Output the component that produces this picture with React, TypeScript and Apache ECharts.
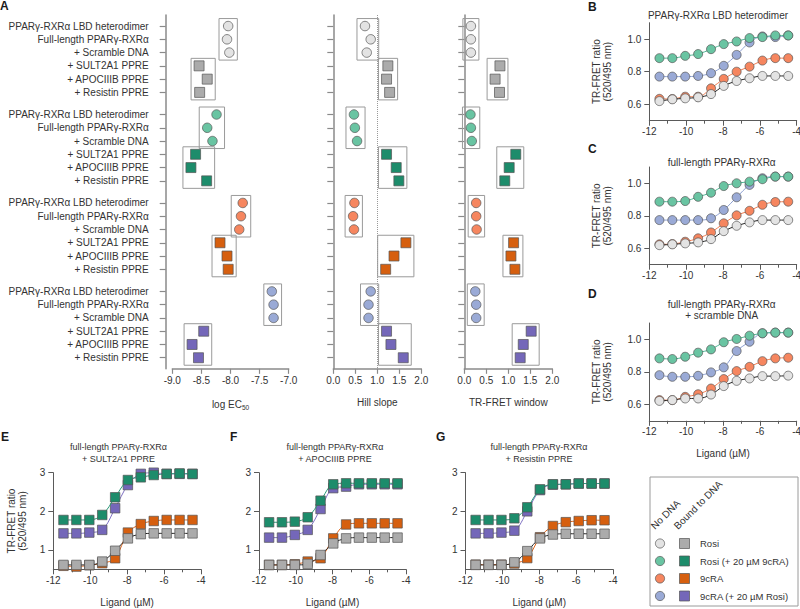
import React, { useEffect, useRef } from 'react';
import * as echarts from 'echarts';

const FONT = '"Liberation Sans", Arial, Helvetica, sans-serif';
const TXT = '#333333';

// ---------- Panel A data ----------
const rowLabels = [
  'PPARγ-RXRα LBD heterodimer',
  'Full-length PPARγ-RXRα',
  '+ Scramble DNA',
  '+ SULT2A1 PPRE',
  '+ APOCIIIB PPRE',
  '+ Resistin PPRE',
];
const treatments = ['Rosi', 'Rosi (+ 20 µM 9cRA)', '9cRA', '9cRA (+ 20 µM Rosi)'];
const noDnaColors = ['#e3e3e3', '#69c4a2', '#f6865f', '#9aaad6'];
const boundColors = ['#ababab', '#1d8c6b', '#d65f0f', '#7467b9'];
const lineColorsBCD = ['#222222', '#4db592', '#ee7d52', '#8c9fd0'];
const lineColorsEFG = ['#222222', '#2a9a78', '#e0661c', '#7f71c2'];

const logEC50 = [
  [-8.04, -8.06, -8.02, -8.54, -8.40, -8.53],
  [-8.24, -8.40, -8.31, -8.60, -8.68, -8.41],
  [-7.79, -7.82, -7.85, -8.18, -8.06, -8.04],
  [-7.29, -7.26, -7.26, -8.46, -8.66, -8.55],
];
const hillSlope = [
  [0.72, 0.85, 0.76, 1.24, 1.21, 1.28],
  [0.47, 0.49, 0.54, 1.21, 1.43, 1.49],
  [0.48, 0.45, 0.47, 1.65, 1.38, 1.19],
  [0.85, 0.80, 0.80, 1.21, 1.31, 1.59],
];
const trfretWindow = [
  [0.15, 0.15, 0.15, 0.81, 0.70, 0.80],
  [0.14, 0.15, 0.17, 1.17, 1.02, 0.92],
  [0.27, 0.27, 0.28, 1.12, 1.06, 1.15],
  [0.25, 0.27, 0.27, 1.52, 1.34, 1.27],
];

// ---------- Dose-response data ----------
const ligandLog = [-11.45, -10.75, -10.05, -9.35, -8.65, -7.96, -7.26, -6.56, -5.86, -5.16, -4.46];

const B_rosi = [0.620, 0.631, 0.637, 0.643, 0.663, 0.713, 0.743, 0.760, 0.774, 0.774, 0.774];
const B_rosi9c = [0.883, 0.883, 0.897, 0.908, 0.938, 0.969, 0.985, 1.006, 1.012, 1.022, 1.022];
const B_9cra = [0.634, 0.633, 0.647, 0.647, 0.698, 0.756, 0.800, 0.831, 0.868, 0.883, 0.883];
const B_9craRosi = [0.770, 0.770, 0.770, 0.774, 0.791, 0.836, 0.903, 0.979, 1.016, 1.012, 1.022];

const C_rosi = [0.620, 0.625, 0.631, 0.637, 0.657, 0.706, 0.739, 0.760, 0.774, 0.774, 0.774];
const C_rosi9c = [0.887, 0.887, 0.891, 0.917, 0.942, 0.983, 1.000, 1.010, 1.025, 1.041, 1.041];
const C_9cra = [0.625, 0.627, 0.641, 0.662, 0.698, 0.754, 0.803, 0.831, 0.868, 0.885, 0.887];
const C_9craRosi = [0.774, 0.774, 0.774, 0.774, 0.785, 0.836, 0.914, 0.990, 1.031, 1.041, 1.041];

const D_rosi = [0.622, 0.627, 0.637, 0.637, 0.661, 0.713, 0.745, 0.760, 0.774, 0.774, 0.777];
const D_rosi9c = [0.883, 0.879, 0.893, 0.918, 0.938, 0.982, 1.002, 1.022, 1.037, 1.041, 1.041];
const D_9cra = [0.627, 0.627, 0.647, 0.663, 0.698, 0.756, 0.805, 0.831, 0.866, 0.883, 0.887];
const D_9craRosi = [0.780, 0.770, 0.770, 0.776, 0.797, 0.828, 0.928, 0.985, 1.037, 1.041, 1.041];

const E_rosi = [0.613, 0.613, 0.613, 0.70, 0.98, 1.30, 1.41, 1.43, 1.43, 1.43, 1.43];
const E_rosi9c = [1.777, 1.777, 1.777, 1.906, 2.364, 2.811, 2.88, 2.94, 2.966, 2.98, 2.966];
const E_9cra = [0.59, 0.57, 0.605, 0.657, 0.786, 1.45, 1.67, 1.75, 1.777, 1.777, 1.777];
const E_9craRosi = [1.43, 1.43, 1.45, 1.52, 2.08, 2.68, 2.97, 3.0, 2.97, 2.97, 2.97];

const F_rosi = [0.613, 0.613, 0.613, 0.64, 0.87, 1.17, 1.30, 1.32, 1.32, 1.32, 1.32];
const F_rosi9c = [1.717, 1.717, 1.733, 1.847, 2.276, 2.70, 2.726, 2.726, 2.726, 2.726, 2.726];
const F_9cra = [0.613, 0.613, 0.63, 0.70, 0.786, 1.30, 1.66, 1.69, 1.69, 1.69, 1.69];
const F_9craRosi = [1.32, 1.32, 1.39, 1.52, 2.06, 2.60, 2.64, 2.70, 2.70, 2.70, 2.70];

const G_rosi = [0.613, 0.613, 0.613, 0.68, 0.97, 1.30, 1.40, 1.42, 1.42, 1.42, 1.42];
const G_rosi9c = [1.777, 1.777, 1.777, 1.82, 2.105, 2.57, 2.70, 2.70, 2.72, 2.72, 2.72];
const G_9cra = [0.62, 0.62, 0.62, 0.65, 0.79, 1.33, 1.62, 1.72, 1.75, 1.77, 1.77];
const G_9craRosi = [1.43, 1.43, 1.45, 1.50, 2.0, 2.55, 2.69, 2.70, 2.72, 2.72, 2.72];

const ticksBCD = [0.6, 0.8, 1.0];
const ticksEFG = [1, 2, 3];

// ---------- option building ----------
const N_UNITS = 80;
const rowUnit = (t: number, i: number) => 2 + t * 20 + i * 3;

function buildOption() {
  const catData: string[] = Array.from({ length: N_UNITS }, () => '');
  const isRow: boolean[] = Array.from({ length: N_UNITS }, () => false);
  for (let t = 0; t < 4; t++) {
    for (let i = 0; i < 6; i++) {
      catData[rowUnit(t, i)] = rowLabels[i];
      isRow[rowUnit(t, i)] = true;
    }
  }

  const grids: any[] = [];
  const xAxes: any[] = [];
  const yAxes: any[] = [];
  const series: any[] = [];
  const graphic: any[] = [];

  const axisGrayA = '#8a8a8a';
  const textStyle = { color: TXT, fontFamily: FONT, fontSize: 10 };

  const aPanels = [
    { vals: logEC50, left: 172.3, width: 116.4, min: -9, max: -7, yOffset: 6.6, name: '{a|log EC}{b|50}', labels: true, dotted: false },
    { vals: hillSlope, left: 333.3, width: 88, min: 0, max: 2, yOffset: 7.3, name: 'Hill slope', labels: false, dotted: true },
    { vals: trfretWindow, left: 464.3, width: 88, min: 0, max: 2, yOffset: 7, name: 'TR-FRET window', labels: false, dotted: false },
  ];

  aPanels.forEach((p, gi) => {
    grids.push({ left: p.left, top: 15, width: p.width, height: 353.8, outerBoundsMode: 'none', containLabel: false });
    xAxes.push({
      type: 'value', gridIndex: gi, min: p.min, max: p.max, interval: 0.5,
      axisLine: { show: true, onZero: false, lineStyle: { color: axisGrayA, width: 1.5 } },
      axisTick: { show: true, length: 5, lineStyle: { color: axisGrayA, width: 1.2 } },
      axisLabel: { ...textStyle, margin: 7, formatter: (v: number) => v.toFixed(1) },
      splitLine: { show: false },
      name: p.name, nameLocation: 'middle', nameGap: 29,
      nameTextStyle: {
        ...textStyle,
        rich: {
          a: { fontSize: 10, fontFamily: FONT, color: TXT },
          b: { fontSize: 6.5, fontFamily: FONT, color: TXT, padding: [6, 0, 0, 0] },
        },
      },
    });
    yAxes.push({
      type: 'category', gridIndex: gi, data: catData, inverse: true, boundaryGap: true, offset: p.yOffset,
      axisLine: { show: true, lineStyle: { color: axisGrayA, width: 1.5 } },
      axisTick: { show: true, alignWithLabel: true, length: 6, interval: (idx: number) => isRow[idx], lineStyle: { color: axisGrayA, width: 1.2 } },
      axisLabel: { show: p.labels, ...textStyle, margin: 17, interval: (idx: number) => isRow[idx] },
      splitLine: { show: false },
    });

    // boxes around each group of three
    const boxData: number[][] = [];
    for (let t = 0; t < 4; t++) {
      for (let h = 0; h < 2; h++) {
        const vs = p.vals[t].slice(h * 3, h * 3 + 3);
        boxData.push([Math.min(...vs), Math.max(...vs), rowUnit(t, h * 3), rowUnit(t, h * 3 + 2)]);
      }
    }
    series.push({
      type: 'custom', xAxisIndex: gi, yAxisIndex: gi, z: 1, silent: true,
      encode: { x: [0, 1], y: [2, 3] },
      data: boxData,
      renderItem: (params: any, api: any) => {
        const p1 = api.coord([api.value(0), api.value(2)]);
        const p2 = api.coord([api.value(1), api.value(3)]);
        return {
          type: 'rect',
          shape: { x: p1[0] - 8, y: p1[1] - 7.5, width: p2[0] - p1[0] + 16, height: p2[1] - p1[1] + 15 },
          style: { fill: 'rgba(0,0,0,0)', stroke: '#9a9a9a', lineWidth: 1 },
        };
      },
    });

    for (let t = 0; t < 4; t++) {
      const circ: any = {
        type: 'scatter', xAxisIndex: gi, yAxisIndex: gi, z: 3,
        symbol: 'circle', symbolSize: 9.5,
        itemStyle: { color: noDnaColors[t], borderColor: '#555', borderWidth: 0.7, opacity: 1 },
        data: p.vals[t].slice(0, 3).map((v, i) => [v, rowUnit(t, i)]),
      };
      if (p.dotted && t === 0) {
        circ.markLine = {
          silent: true, symbol: ['none', 'none'], label: { show: false },
          lineStyle: { type: 'dotted', color: '#999', width: 1 },
          data: [{ xAxis: 1 }],
        };
      }
      series.push(circ);
      series.push({
        type: 'scatter', xAxisIndex: gi, yAxisIndex: gi, z: 3,
        symbol: 'rect', symbolSize: 10,
        itemStyle: { color: boundColors[t], borderColor: '#555', borderWidth: 0.7, opacity: 1 },
        data: p.vals[t].slice(3, 6).map((v, i) => [v, rowUnit(t, i + 3)]),
      });
    }
  });

  // ---------- dose-response panels ----------
  const curvePanels = [
    { sets: [B_rosi, B_rosi9c, B_9cra, B_9craRosi], left: 649.3, top: 22.7, width: 147.4, height: 98, ymin: 0.5, ymax: 1.1, ticks: ticksBCD, dec: 1, sym: 'circle', colors: noDnaColors, lines: lineColorsBCD, xName: '', yName: 'TR-FRET ratio\n(520/495 nm)', yGap: 36 },
    { sets: [C_rosi, C_rosi9c, C_9cra, C_9craRosi], left: 649.3, top: 167, width: 147.4, height: 97.7, ymin: 0.5, ymax: 1.1, ticks: ticksBCD, dec: 1, sym: 'circle', colors: noDnaColors, lines: lineColorsBCD, xName: '', yName: 'TR-FRET ratio\n(520/495 nm)', yGap: 36 },
    { sets: [D_rosi, D_rosi9c, D_9cra, D_9craRosi], left: 649.3, top: 323, width: 147.4, height: 97.8, ymin: 0.5, ymax: 1.1, ticks: ticksBCD, dec: 1, sym: 'circle', colors: noDnaColors, lines: lineColorsBCD, xName: 'Ligand (µM)', yName: 'TR-FRET ratio\n(520/495 nm)', yGap: 36 },
    { sets: [E_rosi, E_rosi9c, E_9cra, E_9craRosi], left: 53.3, top: 472.7, width: 147.7, height: 96.6, ymin: 0.5, ymax: 3, ticks: ticksEFG, dec: 0, sym: 'rect', colors: boundColors, lines: lineColorsEFG, xName: 'Ligand (µM)', yName: 'TR-FRET ratio\n(520/495 nm)', yGap: 25 },
    { sets: [F_rosi, F_rosi9c, F_9cra, F_9craRosi], left: 259, top: 472.7, width: 147, height: 96.6, ymin: 0.5, ymax: 3, ticks: ticksEFG, dec: 0, sym: 'rect', colors: boundColors, lines: lineColorsEFG, xName: 'Ligand (µM)', yName: '', yGap: 25 },
    { sets: [G_rosi, G_rosi9c, G_9cra, G_9craRosi], left: 465.5, top: 472.7, width: 147.5, height: 96.6, ymin: 0.5, ymax: 3, ticks: ticksEFG, dec: 0, sym: 'rect', colors: boundColors, lines: lineColorsEFG, xName: 'Ligand (µM)', yName: '', yGap: 25 },
  ];
  const axisGray = '#5a5a5a';
  const drawOrder = [3, 1, 2, 0];

  curvePanels.forEach((p, k) => {
    const gi = 3 + k;
    grids.push({ left: p.left, top: p.top, width: p.width, height: p.height, outerBoundsMode: 'none', containLabel: false });
    xAxes.push({
      type: 'value', gridIndex: gi, min: -12, max: -4, interval: 2,
      axisLine: { show: true, onZero: false, lineStyle: { color: axisGray, width: 1 } },
      axisTick: { show: true, length: 5, lineStyle: { color: axisGray } },
      minorTick: { show: true, splitNumber: 2, length: 3, lineStyle: { color: axisGray } },
      axisLabel: { ...textStyle, margin: 6 },
      splitLine: { show: false }, minorSplitLine: { show: false },
      name: p.xName, nameLocation: 'middle', nameGap: 28, nameTextStyle: { ...textStyle },
    });
    yAxes.push({
      type: 'value', gridIndex: gi, min: p.ymin, max: p.ymax,
      axisLine: { show: true, onZero: false, lineStyle: { color: axisGray, width: 1 } },
      axisTick: { show: true, length: 5, customValues: p.ticks, lineStyle: { color: axisGray } },
      axisLabel: { ...textStyle, margin: 8, customValues: p.ticks, formatter: (v: number) => v.toFixed(p.dec) },
      splitLine: { show: false },
      name: p.yName, nameLocation: 'middle', nameRotate: 90, nameGap: p.yGap,
      nameTextStyle: { ...textStyle, lineHeight: 11.5 },
    });
    drawOrder.forEach((t, j) => {
      series.push({
        type: 'line', xAxisIndex: gi, yAxisIndex: gi, z: 3 + j,
        name: treatments[t],
        data: ligandLog.map((x, i) => [x, p.sets[t][i]]),
        smooth: 0.35,
        symbol: p.sym, symbolSize: p.sym === 'rect' ? 9.5 : 9, showSymbol: true,
        lineStyle: { color: p.lines[t], width: 1 },
        itemStyle: { color: p.colors[t], borderColor: '#555', borderWidth: 0.7 },
      });
    });
  });

  // ---------- titles ----------
  const titleTxt = (x: number, y: number, text: string, size: number) => ({
    type: 'text', x, y, silent: true,
    style: { text, fill: TXT, font: `${size}px ${FONT}`, textAlign: 'center', textVerticalAlign: 'middle' },
  });
  graphic.push(titleTxt(718, 15, 'PPARγ-RXRα LBD heterodimer', 10));
  graphic.push(titleTxt(721.7, 162.5, 'full-length PPARγ-RXRα', 10));
  graphic.push(titleTxt(721.7, 304, 'full-length PPARγ-RXRα', 10));
  graphic.push(titleTxt(721.7, 315.5, '+ scramble DNA', 10));
  graphic.push(titleTxt(118.5, 447.3, 'full-length PPARγ-RXRα', 9));
  graphic.push(titleTxt(118.5, 459.3, '+ SULT2A1 PPRE', 9));
  graphic.push(titleTxt(335, 447.3, 'full-length PPARγ-RXRα', 9));
  graphic.push(titleTxt(335, 459.3, '+ APOCIIIB PPRE', 9));
  graphic.push(titleTxt(539, 447.3, 'full-length PPARγ-RXRα', 9));
  graphic.push(titleTxt(539, 459.3, '+ Resistin PPRE', 9));

  // panel letters
  const letter = (x: number, y: number, t: string) => ({
    type: 'text', x, y, silent: true,
    style: { text: t, fill: '#1a1a1a', font: `bold 12px ${FONT}`, textAlign: 'left', textVerticalAlign: 'middle' },
  });
  graphic.push(letter(0, 6, 'A'));
  graphic.push(letter(588, 7, 'B'));
  graphic.push(letter(588, 149, 'C'));
  graphic.push(letter(588, 294, 'D'));
  graphic.push(letter(1, 437, 'E'));
  graphic.push(letter(230, 437, 'F'));
  graphic.push(letter(436, 437, 'G'));

  // ---------- legend ----------
  graphic.push({ type: 'rect', silent: true, shape: { x: 650, y: 477, width: 148, height: 129 }, style: { fill: '#ffffff', stroke: '#9a9a9a', lineWidth: 1 } });
  graphic.push({ type: 'text', x: 656, y: 531, rotation: Math.PI / 4, silent: true, style: { text: 'No DNA', fill: TXT, font: `10px ${FONT}`, textAlign: 'left', textVerticalAlign: 'bottom' } });
  graphic.push({ type: 'text', x: 679, y: 531, rotation: Math.PI / 4, silent: true, style: { text: 'Bound to DNA', fill: TXT, font: `10px ${FONT}`, textAlign: 'left', textVerticalAlign: 'bottom' } });
  treatments.forEach((name, t) => {
    const cy = 543.5 + t * 17.5;
    graphic.push({ type: 'circle', silent: true, shape: { cx: 660, cy, r: 4.6 }, style: { fill: noDnaColors[t], stroke: '#555', lineWidth: 0.7 } });
    graphic.push({ type: 'rect', silent: true, shape: { x: 679.5, y: cy - 5, width: 10, height: 10 }, style: { fill: boundColors[t], stroke: '#555', lineWidth: 0.7 } });
    graphic.push({ type: 'text', x: 700, y: cy, silent: true, style: { text: name, fill: TXT, font: `9.5px ${FONT}`, textAlign: 'left', textVerticalAlign: 'middle' } });
  });

  return {
    animation: false,
    backgroundColor: '#ffffff',
    textStyle: { fontFamily: FONT },
    grid: grids,
    xAxis: xAxes,
    yAxis: yAxes,
    series,
    graphic: { elements: graphic },
  };
}

export default function App() {
  const ref = useRef<HTMLDivElement>(null);
  useEffect(() => {
    if (!ref.current) return;
    const chart = echarts.init(ref.current, null, { renderer: 'svg' });
    chart.setOption(buildOption() as any);
    return () => chart.dispose();
  }, []);
  return <div ref={ref} style={{ position: 'fixed', left: 0, top: 0, width: 800, height: 609 }} />;
}
